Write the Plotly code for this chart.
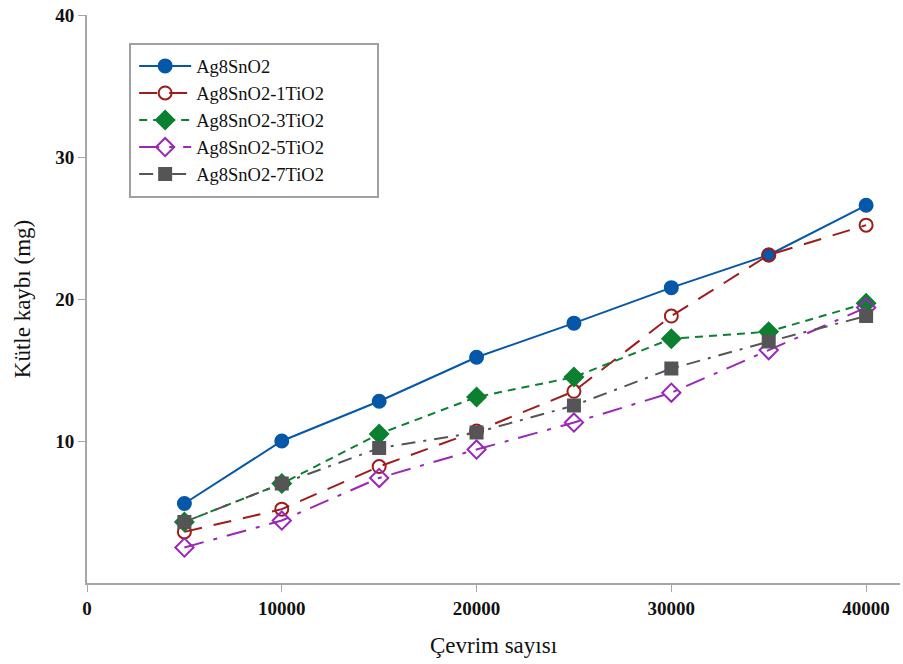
import plotly.graph_objects as go

cycles = [5000, 10000, 15000, 20000, 25000, 30000, 35000, 40000]

ag8sno2 = [5.6, 10.0, 12.8, 15.9, 18.3, 20.8, 23.1, 26.6]
ag8sno2_1tio2 = [3.6, 5.2, 8.2, 10.7, 13.5, 18.8, 23.1, 25.2]
ag8sno2_3tio2 = [4.3, 7.0, 10.5, 13.1, 14.5, 17.2, 17.7, 19.7]
ag8sno2_5tio2 = [2.5, 4.4, 7.4, 9.4, 11.3, 13.4, 16.4, 19.4]
ag8sno2_7tio2 = [4.3, 7.0, 9.5, 10.6, 12.5, 15.1, 17.0, 18.8]

series_names = ["Ag8SnO2", "Ag8SnO2-1TiO2", "Ag8SnO2-3TiO2", "Ag8SnO2-5TiO2", "Ag8SnO2-7TiO2"]
x_ticks = [0, 10000, 20000, 30000, 40000]
y_ticks = [10, 20, 30, 40]

styles = [
    dict(color="#0557A8", dash="solid", symbol="circle", size=13),
    dict(color="#9E1C1C", dash="18px,12px", symbol="circle-open", size=13),
    dict(color="#0B8030", dash="8px,6px", symbol="diamond", size=14),
    dict(color="#9A27B8", dash="20px,10px,4px,10px", symbol="diamond-open", size=14),
    dict(color="#555555", dash="14px,8px,3px,8px", symbol="square", size=12),
]

fig = go.Figure()
for name, vals, st in zip(series_names,
                          [ag8sno2, ag8sno2_1tio2, ag8sno2_3tio2, ag8sno2_5tio2, ag8sno2_7tio2],
                          styles):
    fig.add_trace(go.Scatter(
        x=cycles, y=vals, name=name, mode="lines+markers",
        line=dict(color=st["color"], width=2, dash=st["dash"]),
        marker=dict(symbol=st["symbol"], size=st["size"], color=st["color"],
                    line=dict(color=st["color"], width=2)),
    ))

serif = "Liberation Serif, Times New Roman, serif"

fig.update_layout(
    width=903, height=664,
    margin=dict(l=87, r=3, t=15, b=81),
    paper_bgcolor="white", plot_bgcolor="white",
    showlegend=True,
    legend=dict(
        x=0.058, y=0.943, xanchor="left", yanchor="top",
        bgcolor="rgba(0,0,0,0)", borderwidth=0,
        font=dict(family=serif, size=18.5, color="#111111"),
        tracegroupgap=0, itemwidth=52,
    ),
    xaxis=dict(
        range=[0, 41740], tickvals=x_ticks, ticktext=[str(v) for v in x_ticks],
        showgrid=False, zeroline=False,
        showline=True, linecolor="#A6A6A6", linewidth=2,
        ticks="outside", ticklen=7, tickcolor="#A6A6A6", tickwidth=1,
        tickfont=dict(family=serif, size=19, color="#111111", weight="bold"),
        title=dict(text="Çevrim sayısı", font=dict(family=serif, size=23, color="#111111"),
                   standoff=19),
    ),
    yaxis=dict(
        range=[0, 40], tickvals=y_ticks, ticktext=[str(v) for v in y_ticks],
        showgrid=False, zeroline=False,
        showline=True, linecolor="#A6A6A6", linewidth=2,
        ticks="outside", ticklen=7, tickcolor="#A6A6A6", tickwidth=1,
        tickfont=dict(family=serif, size=19, color="#111111", weight="bold"),
        title=dict(text="Kütle kaybı (mg)", font=dict(family=serif, size=23, color="#111111"),
                   standoff=18),
    ),
    shapes=[dict(
        type="rect", xref="paper", yref="paper",
        x0=(130 - 87) / 813, x1=(378 - 87) / 813,
        y0=(583 - 197) / 568, y1=(583 - 44) / 568,
        line=dict(color="#A0A0A0", width=2), fillcolor="rgba(0,0,0,0)",
    )],
)

fig.write_html("out.html")
